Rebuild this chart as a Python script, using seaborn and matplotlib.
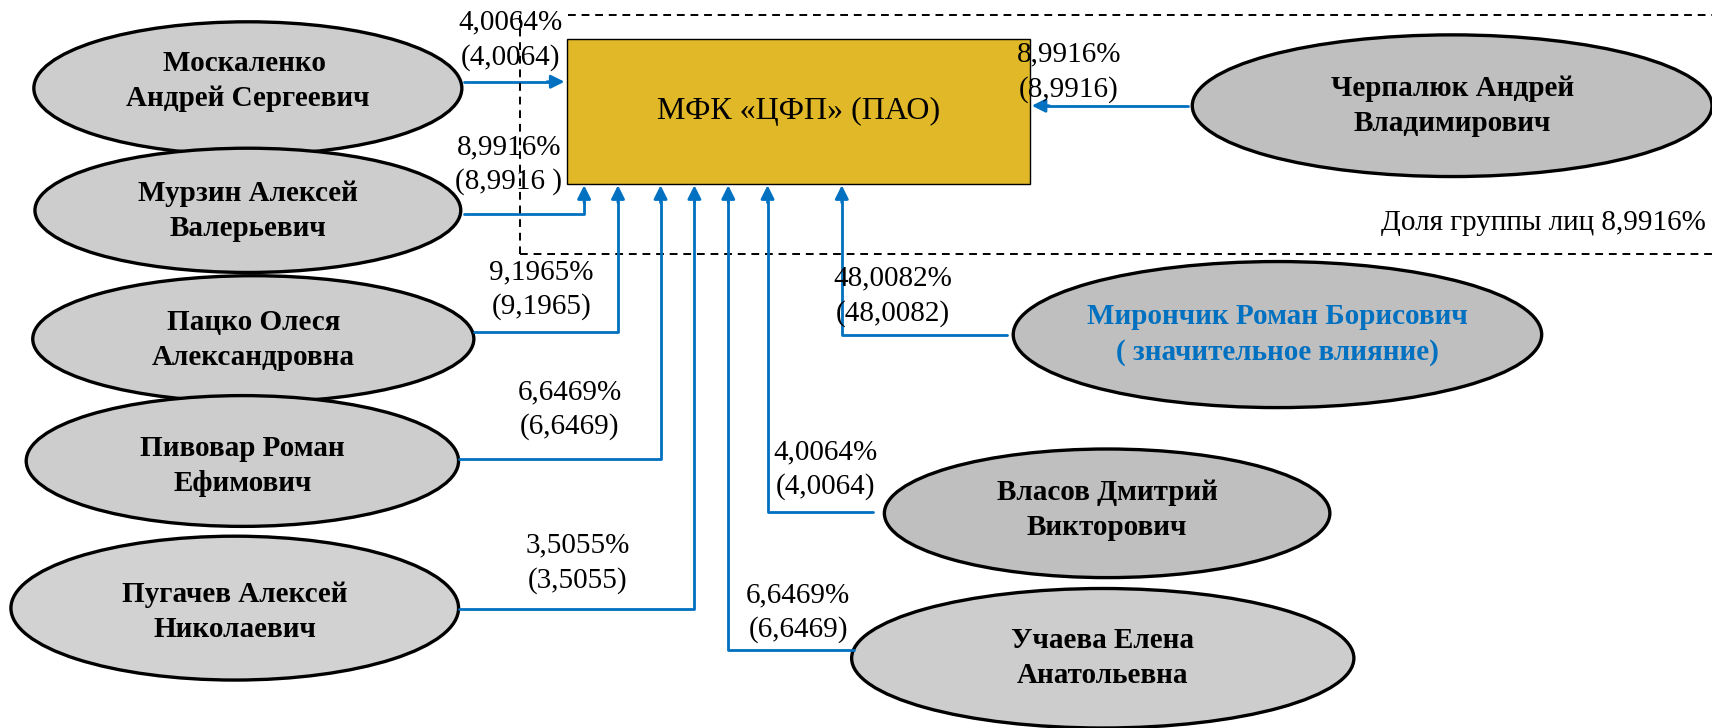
import matplotlib
matplotlib.use("Agg")
import matplotlib.pyplot as plt
from matplotlib.patches import Ellipse, Rectangle
import seaborn as sns
import pandas as pd

sns.set_theme(style="white")
plt.rcParams['font.family'] = ['Liberation Serif', 'DejaVu Serif']

# ---- data ----
company = "МФК «ЦФП» (ПАО)"
owners = [
    "Москаленко \nАндрей Сергеевич",
    "Мурзин Алексей\nВалерьевич",
    "Пацко Олеся\nАлександровна",
    "Пивовар Роман\nЕфимович",
    "Пугачев Алексей\nНиколаевич",
    "Черпалюк Андрей\nВладимирович",
    "Мирончик Роман Борисович\n( значительное влияние)",
    "Власов Дмитрий\nВикторович",
    "Учаева Елена\nАнатольевна",
]
share_labels = [
    "4,0064%\n(4,0064)",
    "8,9916%\n(8,9916 )",
    "9,1965%\n(9,1965)",
    "6,6469%\n(6,6469)",
    "3,5055%\n(3,5055)",
    "8,9916%\n(8,9916)",
    "48,0082%\n(48,0082)",
    "4,0064%\n(4,0064)",
    "6,6469%\n(6,6469)",
]
group_label = "Доля группы лиц 8,9916%"

# ---- layout (pixel space of a 1568x668 canvas) ----
ell_cx = [227, 227, 232, 222, 215, 1330, 1170, 1014, 1010]
ell_cy = [81, 193, 311, 423, 558, 97, 307, 471, 604]
ell_w = [392, 390, 404, 396, 410, 476, 484, 408, 460]
ell_h = [122, 114, 116, 120, 132, 130, 134, 118, 128]
ell_fc = ["#CDCDCD", "#CDCDCD", "#CDCDCD", "#CDCDCD", "#D2D2D2",
          "#BFBFBF", "#BFBFBF", "#BFBFBF", "#CDCDCD"]
name_y = [74, 194, 312, 428, 562, 97, 307, 468, 604]
name_color = ["black"] * 6 + ["#0070C0"] + ["black"] * 2
# connector paths: start at ellipse, end at arrow tip
paths = [
    [(425, 75), (517, 75)],
    [(425, 196), (535, 196), (535, 170)],
    [(434, 305), (566, 305), (566, 170)],
    [(420, 421), (605, 421), (605, 170)],
    [(420, 559), (636, 559), (636, 170)],
    [(1088, 97), (945, 97)],
    [(922, 307), (771, 307), (771, 170)],
    [(800, 470), (703, 470), (703, 170)],
    [(782, 596), (667, 596), (667, 170)],
]
lab_x = [468, 466, 496, 522, 529, 979, 818, 756, 731]
lab_y = [37, 151, 266, 376, 517, 66, 272, 431, 562]

W, H = 1568, 668
fig = plt.figure(figsize=(17.12, 7.28), dpi=100)
ax = fig.add_axes([0, 0, 1, 1])

blue = "#0070C0"

# dashed group frame
ax.plot([520, W], [14, 14], ls=(0, (4, 3)), color="black", lw=1.4, zorder=1)
ax.plot([476, W], [233, 233], ls=(0, (4, 3)), color="black", lw=1.4, zorder=1)
ax.plot([476, 476], [14, 233], ls=(0, (4, 3)), color="black", lw=1.4, zorder=6)
ax.text(1562, 205, group_label, ha="right", va="center", fontsize=21, color="black", zorder=5)

# company box
ax.add_patch(Rectangle((519, 36), 424, 133, facecolor="#E0B828", edgecolor="black", lw=1.0, zorder=3))
ax.text(731, 102, company, ha="center", va="center", fontsize=23, color="black", zorder=4)

# ellipses
for cx, cy, w, h, fc, name, ny, nc in zip(ell_cx, ell_cy, ell_w, ell_h, ell_fc, owners, name_y, name_color):
    ax.add_patch(Ellipse((cx, cy), w, h, facecolor=fc, edgecolor="black", lw=2.4, zorder=2))
    ax.text(cx, ny, name, ha="center", va="center", fontsize=21, fontweight="bold",
            color=nc, linespacing=1.38, zorder=4)

# connectors through seaborn
rows = []
for i, p in enumerate(paths):
    pts = list(p)
    (x0, y0), (x1, y1) = pts[-2], pts[-1]
    dx = 0 if x1 == x0 else (14 if x1 > x0 else -14)
    dy = 0 if y1 == y0 else (14 if y1 > y0 else -14)
    pts[-1] = (x1 - dx, y1 - dy)
    for k, (x, y) in enumerate(pts):
        rows.append({"id": i, "order": k, "x": x, "y": y})
df = pd.DataFrame(rows)
sns.lineplot(data=df, x="x", y="y", units="id", estimator=None, sort=False,
             color=blue, lw=2, ax=ax, zorder=3)
for p in paths:
    (x0, y0), (x1, y1) = p[-2], p[-1]
    dx = 0 if x1 == x0 else (16 if x1 > x0 else -16)
    dy = 0 if y1 == y0 else (16 if y1 > y0 else -16)
    ax.annotate("", xy=(x1, y1), xytext=(x1 - dx, y1 - dy),
                arrowprops=dict(arrowstyle="-|>", color=blue, lw=2, mutation_scale=20,
                                shrinkA=0, shrinkB=0), zorder=4)

ax.set_xlim(0, W)
ax.set_ylim(H, 0)
ax.axis("off")

# share labels
for x, y, s in zip(lab_x, lab_y, share_labels):
    ax.text(x, y, s, ha="center", va="center", fontsize=21, color="black",
            linespacing=1.4, zorder=5)

fig.savefig("out.png", dpi=100)
